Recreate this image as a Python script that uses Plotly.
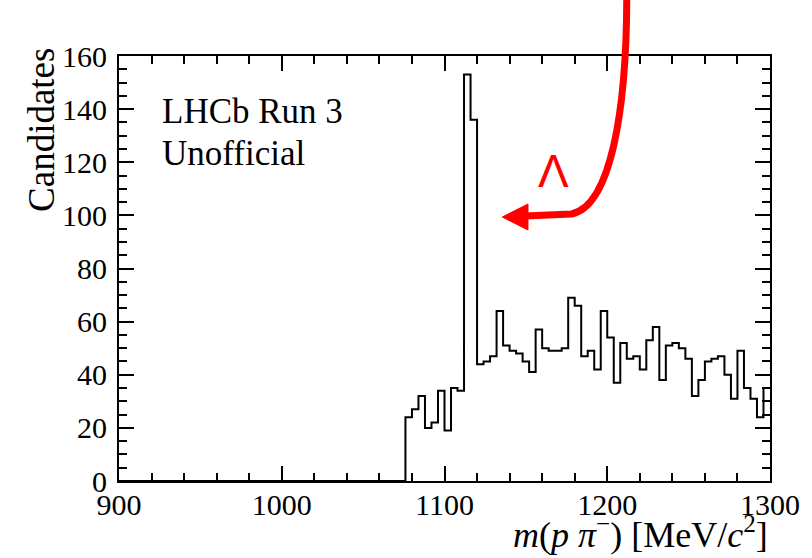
import plotly.graph_objects as go

# ---- data ----
bin_width = 4
x_low, x_high = 900, 1300
# counts for bins starting at 1076 (bins below are empty)
first_filled_edge = 1076
counts_filled = [24, 27, 32, 20, 22, 34, 19, 35, 34, 153, 136,
                 44, 45, 47, 64, 51, 49, 48, 45, 41, 57, 50,
                 49, 49, 50, 69, 66, 47, 49, 42, 64, 54, 37, 52,
                 46, 47, 42, 53, 58, 38, 51, 52, 50, 46, 32,
                 38, 45, 46, 47, 40, 31, 49, 35, 31, 24, 35]
y_ticks = [0, 20, 40, 60, 80, 100, 120, 140, 160]
x_ticks = [900, 1000, 1100, 1200, 1300]

n_empty = (first_filled_edge - x_low) // bin_width
counts = [0] * n_empty + counts_filled
edges = [x_low + i * bin_width for i in range(len(counts) + 1)]
step_y = counts + [counts[-1]]

# ---- geometry helpers (pixel -> paper) ----
W, H = 812, 558
L, R, T, B = 119, 778, 56, 481


def px(x):
    return (x - L) / (R - L)


def py(y):
    return (B - y) / (B - T)


def P(x, y):
    return f"{px(x):.5f},{py(y):.5f}"


fig = go.Figure()
fig.add_trace(go.Scatter(
    x=edges, y=step_y, mode="lines", line_shape="hv",
    line=dict(color="black", width=2), hoverinfo="skip", showlegend=False))

serif = "Liberation Serif"
tickfont = dict(family=serif, size=30, color="black")
axis_common = dict(
    showline=True, linecolor="black", linewidth=2, mirror="allticks",
    ticks="inside", ticklen=15, tickwidth=2, tickcolor="black",
    showgrid=False, zeroline=False,
)

fig.update_xaxes(range=[x_low, x_high], tickvals=x_ticks,
                 ticktext=[str(v) for v in x_ticks],
                 minor=dict(dtick=20, ticks="inside", ticklen=8, tickwidth=2,
                            tickcolor="black", showgrid=False),
                 ticklabelstandoff=-4, tickfont=tickfont,
                 **axis_common)
fig.update_yaxes(range=[0, 160], tickvals=y_ticks,
                 ticktext=[str(v) for v in y_ticks],
                 minor=dict(dtick=5, ticks="inside", ticklen=8, tickwidth=2,
                            tickcolor="black", showgrid=False),
                 ticklabelstandoff=4, tickfont=tickfont,
                 **axis_common)

annotations = [
    dict(text="Candidates", textangle=-90, x=px(40), y=py(130),
         xref="paper", yref="paper", xanchor="center", yanchor="middle",
         showarrow=False, font=dict(family=serif, size=37, color="black")),
    dict(text="<i>m</i>(<i>p</i> <i>π</i><sup>−</sup>) [MeV/<i>c</i><sup>2</sup>]",
         x=1.0, y=py(532), xref="paper", yref="paper",
         xanchor="right", yanchor="middle", showarrow=False,
         font=dict(family=serif, size=36, color="black")),
    dict(text="LHCb Run 3", x=px(161), y=py(112), xref="paper", yref="paper",
         xanchor="left", yanchor="middle", showarrow=False,
         font=dict(family=serif, size=35, color="black")),
    dict(text="Unofficial", x=px(161), y=py(153), xref="paper", yref="paper",
         xanchor="left", yanchor="middle", showarrow=False,
         font=dict(family=serif, size=35, color="black")),
    dict(text="Λ", x=px(559), y=py(171), xref="paper", yref="paper",
         xanchor="center", yanchor="middle", showarrow=False,
         font=dict(family="Liberation Sans", size=46, color="#ff0000")),
]

curve = f"M {P(633, -5)} C {P(633, 110)} {P(617, 206)} {P(577, 214)} L {P(530, 216)}"
head = f"M {P(507, 217)} L {P(533, 204)} L {P(533, 230)} Z"
shapes = [
    dict(type="path", path=curve, xref="paper", yref="paper",
         line=dict(color="#ff0000", width=7), layer="above"),
    dict(type="path", path=head, xref="paper", yref="paper",
         line=dict(color="#ff0000", width=1), fillcolor="#ff0000",
         layer="above"),
]

fig.update_layout(
    width=W, height=H,
    margin=dict(l=L, r=W - R, t=T, b=H - B),
    paper_bgcolor="white", plot_bgcolor="white",
    font=dict(family=serif, color="black"),
    annotations=annotations, shapes=shapes,
    showlegend=False,
)

fig.write_html("out.html")
